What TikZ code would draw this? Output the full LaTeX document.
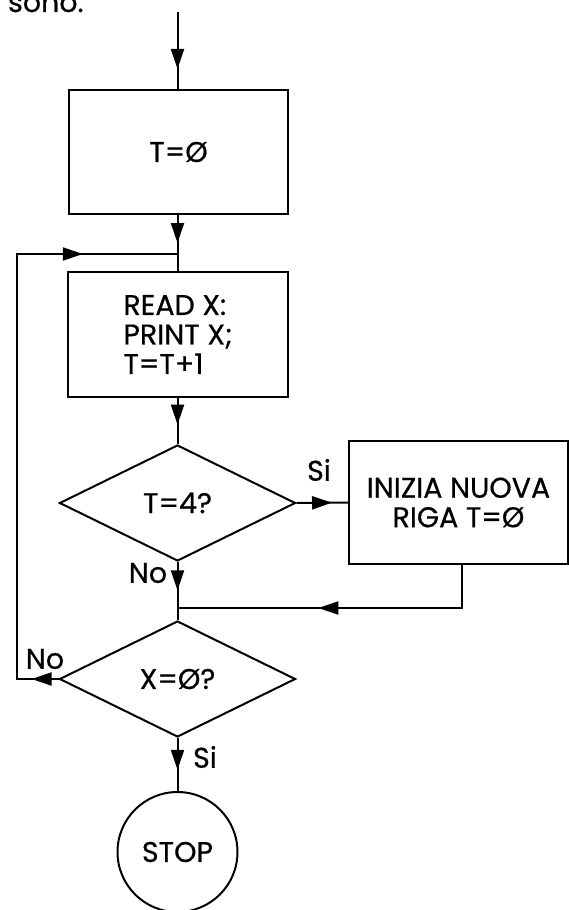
\documentclass[tikz,border=0pt]{standalone}
\usepackage{fontspec}
\setmainfont{Poppins}[FakeBold=0.6]
\usetikzlibrary{shapes.geometric,arrows.meta,decorations.markings}
\begin{document}
\begin{tikzpicture}[x=1pt,y=-1pt,line width=2pt,
  every node/.style={font=\fontsize{28.5}{29.5}\selectfont},
  box/.style={draw,rectangle,inner sep=0pt},
  decision/.style={draw,diamond,inner sep=0pt,minimum width=236pt,minimum height=116pt},
  endnode/.style={draw,circle,inner sep=0pt,minimum size=120pt},
  lbl/.style={inner sep=0pt},
  arr/.style={postaction={decorate},decoration={markings,
    mark=at position #1 with {\arrow{Triangle[length=20pt,width=13pt]}}}}]
\useasboundingbox (0,0) rectangle (569,910);
\node[anchor=base west,inner sep=0pt] (sono) at (7,12) {sono:};
\coordinate (start) at (177.5,12);
\node[box,minimum width=219pt,minimum height=124pt] (b1) at (178.5,152) {T=Ø};
\node[box,minimum width=220pt,minimum height=125pt,align=left] (b2) at (178,334.5) {READ X:\\PRINT X;\\T=T+1};
\node[decision] (d1) at (177.5,503) {T=4?};
\node[box,minimum width=219pt,minimum height=123pt,align=center] (b3) at (458.5,502.5) {INIZIA NUOVA\\RIGA T=Ø};
\node[decision] (d2) at (177.5,679) {X=Ø?};
\node[endnode] (stop) at (177.5,852) {STOP};
\coordinate (join) at (177.5,608);
\coordinate (loopjoin) at (177.5,254);
% connectors
\draw[arr=0.74] (start) -- (b1.north -| start);
\draw[arr=0.5] (b1.south -| start) -- (b2.north -| start);
\draw[arr=0.58] (b2.south -| start) -- (d1.north);
\draw[arr=0.69] (d1.east) -- (b3.west);
\draw[arr=0.49] (d1.south) -- (d2.north);
\draw[arr=0.57] (b3.south -| 462,0) -- (462,608) -- (join);
\draw[postaction={decorate},decoration={markings,
    mark=at position 0.043 with {\arrow{Triangle[length=20pt,width=13pt]}},
    mark=at position 0.849 with {\arrow{Triangle[length=20pt,width=13pt]}}}]
  (d2.west) -- (17,679) -- (17,254) -- (loopjoin);
\draw[arr=0.6] (d2.south) -- (stop.north);
% labels
\node[lbl] (si1) at (319,470) {Si};
\node[lbl] (no1) at (148,573) {No};
\node[lbl] (no2) at (45,659) {No};
\node[lbl] (si2) at (205,757) {Si};
\end{tikzpicture}
\end{document}
